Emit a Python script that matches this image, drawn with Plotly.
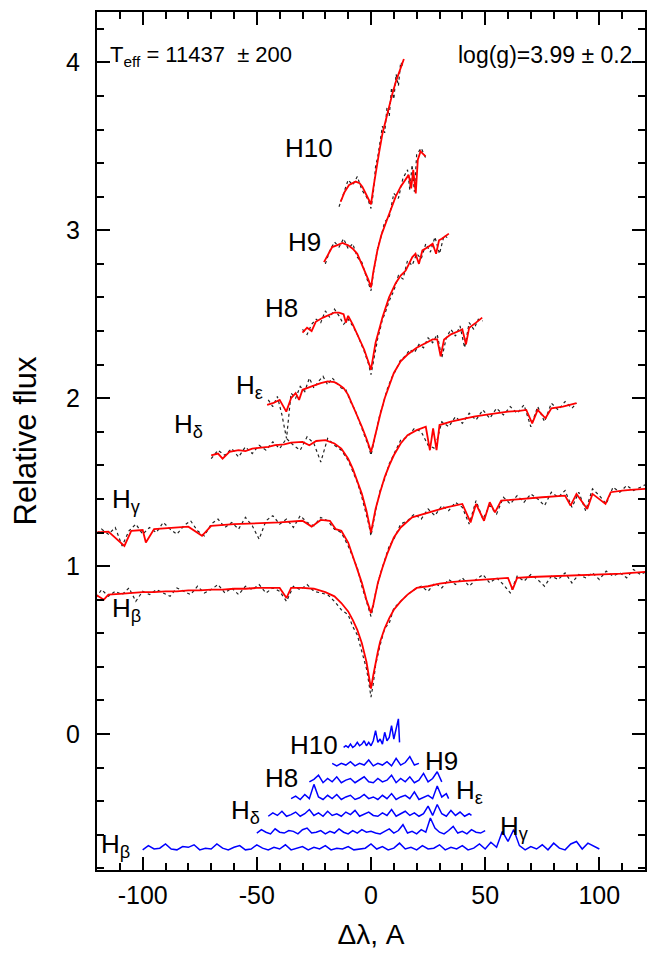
import plotly.graph_objects as go

# wavelength grids (A, offset from the line centre)
x_wide = [-124, -121, -118, -115, -112, -109, -106, -103, -100, -97, -94, -91, -88, -85,
          -82, -79, -76, -73, -70, -67, -64, -61, -58, -55, -52, -49, -46, -43, -40, -37,
          -34, -31, -28, -25, -22, -19, -16, -13, -10, -8, -6, -4, -2, -1, 0, 1, 2, 4, 6,
          8, 10, 13, 16, 19, 22, 25, 28, 31, 34, 37, 40, 43, 46, 49, 52, 55, 58, 61, 64,
          67, 70, 73, 76, 79, 82, 85, 88, 91, 94, 97, 100, 103, 106, 109, 112, 115, 118,
          121, 124]
x_hd = [-70, -67, -64, -61, -58, -55, -52, -49, -46, -43, -40, -37, -34, -31, -28, -25,
        -22, -19, -16, -13, -10, -8, -6, -4, -2, -1, 0, 1, 2, 4, 6, 8, 10, 13, 16, 19, 22,
        25, 28, 31, 34, 37, 40, 43, 46, 49, 52, 55, 58, 61, 64, 67, 70, 73, 76, 79, 82,
        85, 88, 90]
x_he = [-45, -43, -41, -39, -37, -35, -33, -31, -29, -27, -25, -23, -21, -19, -17, -15,
        -13, -11, -9, -7, -5, -4, -3, -2, -1, 0, 1, 2, 3, 4, 5, 7, 9, 11, 13, 15, 17, 19,
        21, 23, 25, 27, 29, 31, 33, 35, 37, 39, 41, 43, 45, 47, 49]
x_h8 = [-30, -28, -26, -24, -22, -20, -18, -16, -14, -12, -10, -8, -6, -5, -4, -3, -2,
        -1, 0, 1, 2, 3, 4, 5, 6, 8, 10, 12, 14, 16, 18, 20, 22, 24, 26, 28, 30, 32, 34]
x_h9 = [-20, -18, -16, -14, -12, -10, -8, -6, -4, -3, -2, -1, 0, 1, 2, 3, 4, 6, 8, 10,
        12, 14, 16, 17, 18, 19, 20, 22, 24]
x_h10 = [-14, -12, -10, -8, -6, -4, -2, -1, 0, 1, 2, 3, 4, 5, 6, 7, 8, 9, 10, 11, 12,
         13, 14]

# observed spectra (shifted)
obs_hb = [0.84, 0.80, 0.86, 0.82, 0.85, 0.83, 0.87, 0.79, 0.85, 0.83, 0.86, 0.84, 0.82,
          0.87, 0.85, 0.83, 0.88, 0.84, 0.86, 0.89, 0.84, 0.87, 0.83, 0.88, 0.86, 0.89,
          0.84, 0.87, 0.85, 0.79, 0.88, 0.86, 0.89, 0.85, 0.84, 0.83, 0.79, 0.74, 0.71,
          0.64, 0.59, 0.49, 0.39, 0.31, 0.22, 0.30, 0.41, 0.53, 0.63, 0.66, 0.75, 0.79,
          0.83, 0.86, 0.88, 0.85, 0.90, 0.87, 0.92, 0.89, 0.93, 0.88, 0.92, 0.95, 0.90,
          0.93, 0.89, 0.84, 0.94, 0.91, 0.95, 0.92, 0.88, 0.94, 0.92, 0.96, 0.90, 0.95,
          0.93, 0.96, 0.92, 0.97, 0.94, 0.96, 0.93, 0.98, 0.95, 0.97, 0.96]
obs_hg = [1.21, 1.18, 1.22, 1.19, 1.23, 1.12, 1.21, 1.25, 1.19, 1.23, 1.20, 1.26, 1.22,
          1.19, 1.24, 1.27, 1.21, 1.18, 1.25, 1.28, 1.23, 1.26, 1.22, 1.29, 1.24, 1.16,
          1.27, 1.30, 1.25, 1.28, 1.23, 1.30, 1.26, 1.24, 1.29, 1.27, 1.22, 1.20, 1.12,
          1.05, 0.99, 0.88, 0.79, 0.74, 0.70, 0.76, 0.84, 0.95, 1.03, 1.12, 1.16, 1.25,
          1.27, 1.31, 1.28, 1.34, 1.30, 1.36, 1.33, 1.38, 1.35, 1.25, 1.39, 1.28, 1.36,
          1.31, 1.41, 1.37, 1.42, 1.38, 1.43, 1.40, 1.36, 1.44, 1.41, 1.45, 1.35, 1.44,
          1.33, 1.46, 1.42, 1.37, 1.47, 1.44, 1.48, 1.45, 1.47, 1.49, 1.46]
obs_hd = [1.64, 1.69, 1.66, 1.70, 1.65, 1.71, 1.67, 1.72, 1.69, 1.74, 1.70, 1.76, 1.72,
          1.69, 1.77, 1.73, 1.62, 1.76, 1.72, 1.69, 1.63, 1.57, 1.50, 1.41, 1.31, 1.25,
          1.18, 1.26, 1.33, 1.45, 1.52, 1.61, 1.67, 1.75, 1.77, 1.82, 1.80, 1.72, 1.70,
          1.86, 1.83, 1.89, 1.85, 1.91, 1.87, 1.93, 1.88, 1.94, 1.90, 1.95, 1.91, 1.96,
          1.83, 1.95, 1.86, 1.97, 1.93, 1.98, 1.94, 1.97]
obs_he = [1.99, 1.95, 2.01, 1.90, 1.76, 2.03, 2.00, 2.07, 2.04, 2.12, 2.06, 2.10, 2.13,
          2.08, 2.12, 2.09, 2.06, 2.05, 1.98, 1.93, 1.86, 1.82, 1.79, 1.75, 1.71, 1.66,
          1.72, 1.80, 1.85, 1.91, 1.95, 2.05, 2.12, 2.17, 2.23, 2.25, 2.29, 2.27, 2.32,
          2.30, 2.36, 2.33, 2.38, 2.24, 2.36, 2.41, 2.37, 2.43, 2.30, 2.45, 2.41, 2.47,
          2.46]
obs_h8 = [2.41, 2.38, 2.44, 2.47, 2.45, 2.52, 2.48, 2.53, 2.49, 2.44, 2.47, 2.43, 2.38,
          2.35, 2.31, 2.28, 2.24, 2.20, 2.14, 2.22, 2.29, 2.36, 2.41, 2.47, 2.50, 2.58,
          2.64, 2.73, 2.71, 2.82, 2.79, 2.86, 2.83, 2.92, 2.87, 2.96, 2.86, 2.97, 2.95]
obs_h9 = [2.80, 2.88, 2.93, 2.90, 2.95, 2.89, 2.92, 2.84, 2.81, 2.76, 2.72, 2.68, 2.64,
          2.74, 2.83, 2.90, 2.94, 3.05, 3.08, 3.22, 3.19, 3.31, 3.36, 3.24, 3.39, 3.23,
          3.45, 3.49, 3.43]
obs_h10 = [3.14, 3.22, 3.30, 3.27, 3.32, 3.24, 3.20, 3.17, 3.13, 3.22, 3.38, 3.44, 3.52,
           3.62, 3.58, 3.73, 3.68, 3.85, 3.78, 3.93, 3.86, 4.00, 3.98]

# model spectra
mx_hb = [-125, -120, -117, -115, -110, -105, -100, -95, -90, -85, -80, -75, -70, -65,
         -60, -55, -50, -45, -40, -37, -35, -30, -25, -20, -16, -13, -10, -8, -6, -4,
         -3, -2, -1, 0, 1, 2, 3, 4, 6, 8, 10, 13, 16, 20, 25, 30, 35, 40, 45, 50, 55,
         60, 62, 64, 70, 80, 90, 100, 110, 120, 125]
my_hb = [0.82, 0.825, 0.80, 0.83, 0.835, 0.84, 0.845, 0.845, 0.85, 0.85, 0.855, 0.855,
         0.86, 0.86, 0.865, 0.865, 0.87, 0.87, 0.87, 0.81, 0.87, 0.87, 0.865, 0.845,
         0.82, 0.78, 0.73, 0.68, 0.62, 0.54, 0.49, 0.43, 0.35, 0.27, 0.35, 0.43, 0.49,
         0.55, 0.63, 0.69, 0.74, 0.79, 0.83, 0.87, 0.88, 0.895, 0.905, 0.91, 0.915,
         0.92, 0.925, 0.93, 0.86, 0.93, 0.935, 0.94, 0.945, 0.95, 0.955, 0.965, 0.97]
mx_hg = [-125, -120, -115, -108, -105, -100, -98.6, -95, -90, -85, -80, -74, -70, -60,
         -50, -40, -30, -26, -22, -18, -15.4, -13, -10, -8, -6, -4, -2, -1, 0, 1, 2, 3,
         5, 7, 10, 13, 18, 25, 33, 40, 43.6, 46, 49.5, 52, 54.3, 57, 65, 75, 85, 87.4,
         90, 94.7, 97, 102.7, 105, 110, 115, 120, 125]
my_hg = [1.195, 1.20, 1.205, 1.12, 1.21, 1.215, 1.14, 1.22, 1.225, 1.23, 1.235, 1.18,
         1.24, 1.25, 1.255, 1.26, 1.27, 1.235, 1.275, 1.27, 1.22, 1.21, 1.14, 1.06, 0.98,
         0.90, 0.80, 0.76, 0.72, 0.77, 0.83, 0.90, 0.99, 1.07, 1.17, 1.23, 1.29, 1.32,
         1.35, 1.37, 1.26, 1.37, 1.27, 1.38, 1.32, 1.39, 1.40, 1.41, 1.42, 1.36, 1.43,
         1.34, 1.43, 1.37, 1.44, 1.45, 1.455, 1.46, 1.465]
mx_hd = [-70, -67, -65, -62, -58, -55, -52, -48, -45, -42, -38, -35, -30, -27, -24, -20,
         -16, -13, -10, -8, -6, -4, -2, -1, 0, 1, 2, 4, 6, 8, 10, 13, 16, 20, 24, 25.8,
         27.2, 28.7, 30, 35, 40, 45, 50, 55, 60, 65, 68, 70.6, 73, 76.4, 79, 84, 87, 90]
my_hd = [1.66, 1.67, 1.64, 1.68, 1.69, 1.685, 1.70, 1.705, 1.71, 1.72, 1.725, 1.735,
         1.74, 1.72, 1.745, 1.75, 1.73, 1.70, 1.64, 1.58, 1.51, 1.43, 1.33, 1.27, 1.20,
         1.27, 1.34, 1.44, 1.53, 1.60, 1.66, 1.73, 1.78, 1.81, 1.83, 1.69, 1.82, 1.69,
         1.84, 1.86, 1.875, 1.89, 1.90, 1.91, 1.92, 1.925, 1.93, 1.85, 1.93, 1.88, 1.94,
         1.95, 1.96, 1.97]
mx_he = [-45.5, -43, -40, -37.1, -35, -33, -31.5, -30, -26, -22, -19, -16, -14, -12, -10,
         -8, -6, -4, -2, -1, 0, 1, 2, 4, 6, 8, 10, 13, 16, 20, 24, 27, 29, 30.5, 32, 35,
         38.5, 40, 41.6, 43, 46, 48.7]
my_he = [1.96, 1.97, 1.99, 1.92, 2.00, 2.03, 1.99, 2.05, 2.07, 2.09, 2.10, 2.095, 2.08,
         2.06, 2.02, 1.96, 1.90, 1.83, 1.76, 1.72, 1.68, 1.73, 1.79, 1.90, 2.00, 2.08,
         2.15, 2.22, 2.26, 2.30, 2.33, 2.35, 2.35, 2.25, 2.35, 2.38, 2.40, 2.41, 2.32,
         2.42, 2.45, 2.48]
mx_h8 = [-30, -28, -26, -24.2, -21, -18, -16, -14, -12, -11, -10, -8, -6.7, -5, -3, -1.5,
         0, 1, 2, 4, 5, 7.9, 10.8, 13, 15.2, 18.1, 19.5, 21, 22.5, 25, 27, 28.5, 29.8,
         31, 34.1]
my_h8 = [2.39, 2.42, 2.40, 2.455, 2.48, 2.50, 2.51, 2.51, 2.50, 2.45, 2.49, 2.44, 2.40,
         2.35, 2.29, 2.23, 2.17, 2.25, 2.33, 2.43, 2.48, 2.60, 2.685, 2.73, 2.76, 2.84,
         2.86, 2.80, 2.88, 2.90, 2.92, 2.86, 2.94, 2.95, 2.98]
mx_h9 = [-20.6, -19, -17, -15, -12.5, -10, -8, -6, -4, -2, -1, 0, 1, 2.8, 4.5, 6.4, 8.5,
         10.8, 13, 15.2, 16.5, 17.6, 18.5, 19.6, 20.5, 21.7, 23, 23.9]
my_h9 = [2.81, 2.85, 2.90, 2.91, 2.925, 2.91, 2.89, 2.86, 2.80, 2.73, 2.70, 2.66, 2.75,
         2.88, 2.97, 3.04, 3.12, 3.20, 3.26, 3.30, 3.33, 3.25, 3.36, 3.22, 3.42, 3.47,
         3.45, 3.44]
mx_h10 = [-13.3, -11.5, -9.6, -6.7, -5, -3.8, -2, 0, 1, 2, 3.5, 5, 7, 9.3, 11, 12.5, 14.4]
my_h10 = [3.17, 3.23, 3.27, 3.29, 3.28, 3.26, 3.21, 3.155, 3.25, 3.34, 3.46, 3.575, 3.69,
          3.81, 3.89, 3.95, 4.02]

# residuals (observed - model), shifted below zero
rx_hb = [-100, -97.5, -95, -92.5, -90, -87.5, -85, -82.5, -80, -77.5, -75, -72.5, -70,
         -67.5, -65, -62.5, -60, -57.5, -55, -52.5, -50, -47.5, -45, -42.5, -40, -37.5,
         -35, -32.5, -30, -27.5, -25, -22.5, -20, -17.5, -15, -12.5, -10, -7.5, -5, -2.5,
         0, 2.5, 5, 7.5, 10, 12.5, 15, 17.5, 20, 22.5, 25, 27.5, 30, 32.5, 35, 37.5, 40,
         42.5, 45, 47.5, 50, 52.5, 55, 57.5, 60, 62.5, 65, 67.5, 70, 72.5, 75, 77.5, 80,
         82.5, 85, 87.5, 90, 92.5, 95, 97.5, 100]
ry_hb = [-0.69, -0.665, -0.685, -0.68, -0.655, -0.685, -0.69, -0.67, -0.675, -0.66,
         -0.69, -0.68, -0.685, -0.655, -0.68, -0.69, -0.675, -0.665, -0.69, -0.685,
         -0.66, -0.68, -0.69, -0.675, -0.685, -0.66, -0.69, -0.68, -0.67, -0.69, -0.675,
         -0.685, -0.665, -0.69, -0.68, -0.685, -0.67, -0.69, -0.685, -0.68, -0.655,
         -0.685, -0.67, -0.69, -0.68, -0.65, -0.685, -0.675, -0.69, -0.665, -0.685,
         -0.68, -0.66, -0.69, -0.675, -0.685, -0.665, -0.69, -0.68, -0.655, -0.685,
         -0.645, -0.675, -0.58, -0.64, -0.57, -0.665, -0.69, -0.67, -0.685, -0.66, -0.69,
         -0.65, -0.68, -0.69, -0.655, -0.64, -0.685, -0.65, -0.67, -0.685]
rx_hg = [-50, -48, -46, -44, -42, -40, -38, -36, -34, -32, -30, -28, -26, -24, -22, -20,
         -18, -16, -14, -12, -10, -8, -6, -4, -2, 0, 2, 4, 6, 8, 10, 12, 14, 16, 18, 20,
         22, 24, 26, 28, 30, 32, 34, 36, 38, 40, 42, 44, 46, 48, 50]
ry_hg = [-0.59, -0.57, -0.585, -0.595, -0.565, -0.585, -0.59, -0.575, -0.58, -0.595,
         -0.57, -0.56, -0.59, -0.585, -0.575, -0.595, -0.58, -0.59, -0.565, -0.585,
         -0.595, -0.575, -0.59, -0.57, -0.585, -0.58, -0.59, -0.595, -0.58, -0.565,
         -0.59, -0.575, -0.54, -0.59, -0.58, -0.595, -0.57, -0.585, -0.50, -0.56, -0.585,
         -0.595, -0.575, -0.55, -0.59, -0.58, -0.595, -0.57, -0.585, -0.59, -0.575]
rx_hd = [-45, -43, -41, -39, -37, -35, -33, -31, -29, -27, -25, -23, -21, -19, -17, -15,
         -13, -11, -9, -7, -5, -3, -1, 1, 3, 5, 7, 9, 11, 13, 15, 17, 19, 21, 23, 25, 27,
         29, 31, 33, 35, 37, 39, 41, 43, 44]
ry_hd = [-0.49, -0.47, -0.485, -0.46, -0.49, -0.48, -0.465, -0.49, -0.475, -0.45,
         -0.485, -0.47, -0.49, -0.46, -0.485, -0.475, -0.49, -0.465, -0.48, -0.455,
         -0.49, -0.475, -0.465, -0.485, -0.49, -0.47, -0.485, -0.45, -0.49, -0.475,
         -0.46, -0.485, -0.47, -0.49, -0.475, -0.43, -0.485, -0.42, -0.475, -0.49, -0.455,
         -0.485, -0.465, -0.49, -0.475, -0.485]
rx_he = [-35, -33, -31, -29, -27, -25, -23, -21, -19, -17, -15, -13, -11, -9, -7, -5, -3,
         -1, 1, 3, 5, 7, 9, 11, 13, 15, 17, 19, 21, 23, 25, 27, 29, 31, 33, 34]
ry_he = [-0.385, -0.37, -0.39, -0.36, -0.385, -0.30, -0.375, -0.39, -0.365, -0.385,
         -0.36, -0.39, -0.375, -0.365, -0.39, -0.38, -0.36, -0.385, -0.375, -0.39, -0.365,
         -0.385, -0.355, -0.39, -0.375, -0.365, -0.385, -0.345, -0.39, -0.375, -0.365,
         -0.385, -0.31, -0.375, -0.355, -0.385]
rx_h8 = [-27, -25, -23, -21, -19, -17, -15, -13, -11, -9, -7, -5, -3, -1, 1, 3, 5, 7, 9,
         11, 13, 15, 17, 19, 21, 23, 25, 27, 29, 31]
ry_h8 = [-0.285, -0.27, -0.245, -0.29, -0.265, -0.285, -0.255, -0.29, -0.275, -0.265,
         -0.29, -0.275, -0.255, -0.285, -0.29, -0.265, -0.285, -0.275, -0.245, -0.29,
         -0.265, -0.285, -0.255, -0.29, -0.275, -0.235, -0.285, -0.265, -0.225, -0.285]
rx_h9 = [-17, -15, -13, -11, -9, -7, -5, -3, -1, 1, 3, 5, 7, 9, 11, 13, 15, 17, 19, 21]
ry_h9 = [-0.175, -0.19, -0.175, -0.185, -0.165, -0.19, -0.175, -0.185, -0.155, -0.19,
         -0.175, -0.185, -0.165, -0.19, -0.145, -0.185, -0.17, -0.135, -0.185, -0.175]
rx_h10 = [-12, -11, -10, -9, -8, -7, -6, -5, -4, -3, -2, -1, 0, 1, 2, 3, 4, 5, 6, 7, 8, 9,
          10, 11, 12, 12.5]
ry_h10 = [-0.08, -0.07, -0.08, -0.06, -0.08, -0.07, -0.05, -0.07, -0.06, -0.04, -0.07,
          -0.05, -0.07, -0.04, 0.02, -0.05, -0.03, -0.06, 0.01, -0.04, -0.02, 0.05, -0.03,
          0.03, 0.09, -0.05]

observed = [(x_wide, obs_hb), (x_wide, obs_hg), (x_hd, obs_hd), (x_he, obs_he),
            (x_h8, obs_h8), (x_h9, obs_h9), (x_h10, obs_h10)]
models = [(mx_hb, my_hb), (mx_hg, my_hg), (mx_hd, my_hd), (mx_he, my_he),
          (mx_h8, my_h8), (mx_h9, my_h9), (mx_h10, my_h10)]
residuals = [(rx_hb, ry_hb), (rx_hg, ry_hg), (rx_hd, ry_hd), (rx_he, ry_he),
             (rx_h8, ry_h8), (rx_h9, ry_h9), (rx_h10, ry_h10)]

fig = go.Figure()
for xs, ys in observed:
    fig.add_trace(go.Scatter(x=xs, y=ys, mode="lines",
                             line=dict(color="#222222", width=1.2, dash="dot")))
for xs, ys in models:
    fig.add_trace(go.Scatter(x=xs, y=ys, mode="lines",
                             line=dict(color="#ff0000", width=1.8)))
for xs, ys in residuals:
    fig.add_trace(go.Scatter(x=xs, y=ys, mode="lines",
                             line=dict(color="#0000ff", width=1.5)))

# line names, upper block and residual block
names = ["H<sub>β</sub>", "H<sub>γ</sub>", "H<sub>δ</sub>", "H<sub>ε</sub>", "H8", "H9", "H10"]
name_x = [-107, -107, -80, -53, -39, -29, -27]
name_y = [0.74, 1.39, 1.84, 2.07, 2.54, 2.93, 3.49]
res_name_x = [-112, 63, -55, 43, -39, 31, -25]
res_name_y = [-0.665, -0.555, -0.46, -0.34, -0.26, -0.16, -0.065]

for n, x, y in zip(names, name_x, name_y):
    fig.add_annotation(x=x, y=y, text=n, showarrow=False, font=dict(size=26))
for n, x, y in zip(names, res_name_x, res_name_y):
    fig.add_annotation(x=x, y=y, text=n, showarrow=False, font=dict(size=26))

fig.add_annotation(xref="paper", yref="paper", x=0.02, y=0.967, xanchor="left",
                   text="T<sub>eff</sub> = 11437  ± 200", showarrow=False,
                   font=dict(size=22))
fig.add_annotation(xref="paper", yref="paper", x=0.98, y=0.967, xanchor="right",
                   text="log(g)=3.99 ± 0.2", showarrow=False, font=dict(size=23))

axis_style = dict(showline=True, linewidth=2, linecolor="black", mirror="allticks",
                  ticks="inside", ticklen=13, tickwidth=2, tickcolor="black",
                  showgrid=False, zeroline=False, automargin=False,
                  tickfont=dict(size=25))

fig.update_xaxes(range=[-120, 120], tickvals=[-100, -50, 0, 50, 100],
                 ticktext=["-100", "-50", "0", "50", "100"], ticklabelstandoff=2,
                 minor=dict(dtick=10, tick0=0, ticklen=7, tickwidth=1.5,
                            ticks="inside", tickcolor="black"),
                 title=dict(text="Δλ, A", font=dict(size=28), standoff=16),
                 **axis_style)
fig.update_yaxes(range=[-0.81, 4.30], tickvals=[0, 1, 2, 3, 4], ticklabelstandoff=10,
                 minor=dict(dtick=0.2, tick0=0, ticklen=7, tickwidth=1.5,
                            ticks="inside", tickcolor="black"),
                 title=dict(text="Relative flux", font=dict(size=31), standoff=24),
                 **axis_style)

# the page body adds 8 px on the left and top, margins are reduced to compensate
fig.update_layout(width=665, height=954, showlegend=False,
                  margin=dict(l=89, r=28, t=4, b=92),
                  plot_bgcolor="white", paper_bgcolor="white",
                  font=dict(family="Liberation Sans, Arial, sans-serif", color="black"))

fig.write_html("out.html")
